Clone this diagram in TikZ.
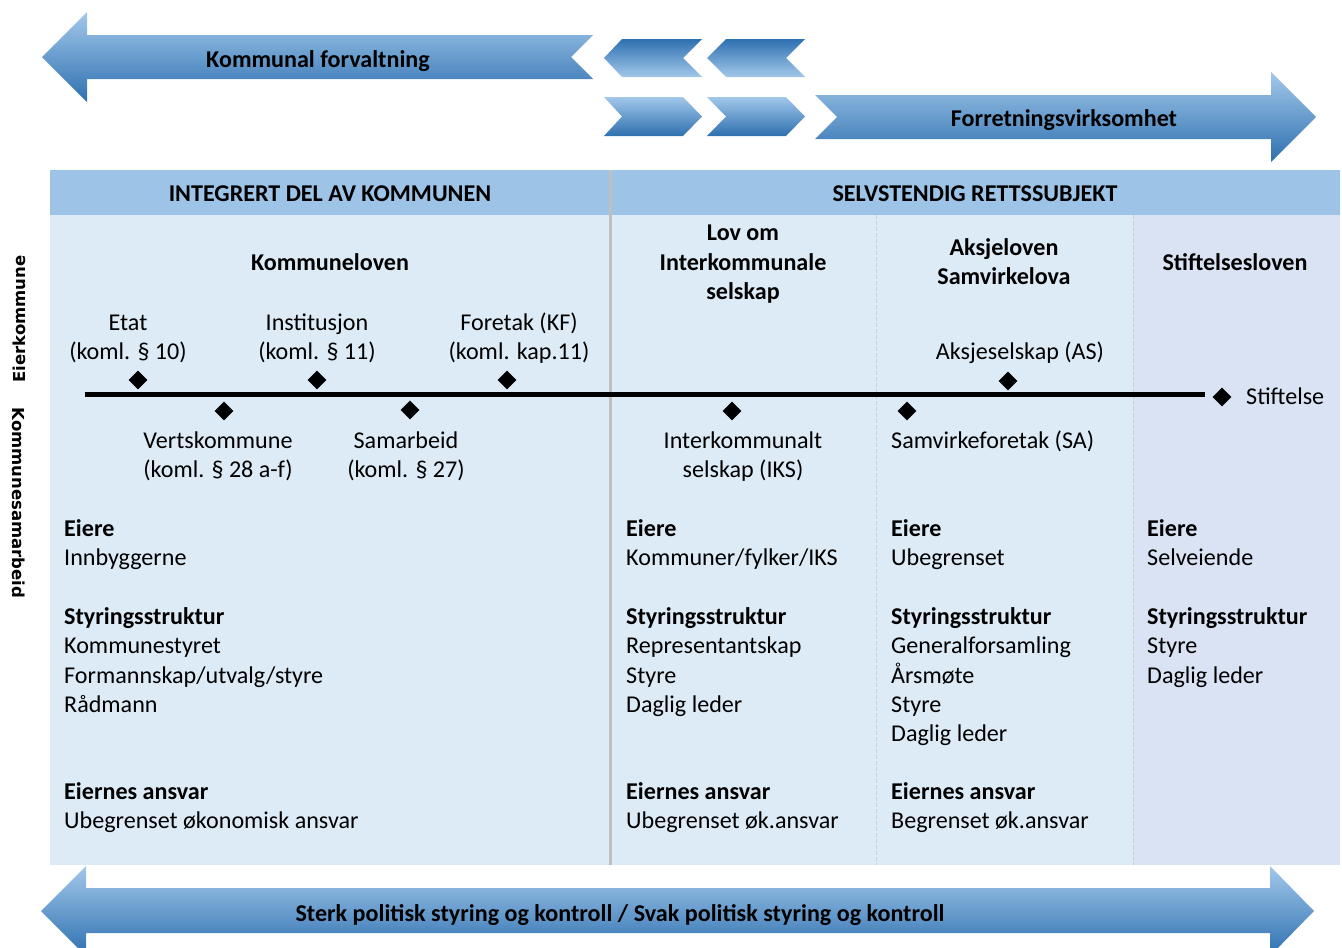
\documentclass[tikz,border=0pt]{standalone}
\usepackage{fontspec}
\setmainfont{Carlito}
\newfontfamily\vfont{DejaVu Sans}
\usetikzlibrary{shapes.geometric}
\definecolor{hdr}{RGB}{157,195,230}
\definecolor{body}{RGB}{221,235,247}
\definecolor{bodyb}{RGB}{218,227,243}
\definecolor{sepc}{RGB}{191,191,191}
\definecolor{dashc}{RGB}{205,205,205}
\definecolor{arL}{RGB}{162,200,234}
\definecolor{arM}{RGB}{95,157,214}
\definecolor{arD}{RGB}{46,112,176}
\tikzset{
  lbl/.style={inner sep=0pt, font=\fontsize{24.1}{28}\selectfont},
  blbl/.style={inner sep=0pt, font=\fontsize{24.1}{28}\selectfont\bfseries},
  dia/.style={diamond, fill=black, inner sep=0pt, minimum width=19pt, minimum height=19pt},
  down shade/.style={top color=arL, middle color=arM, bottom color=arD},
  up shade/.style={top color=arD, middle color=arM, bottom color=arL},
  vlbl/.style={inner sep=0pt, font=\vfont\bfseries\fontsize{16.5}{20}\selectfont},
}
\begin{document}
\begin{tikzpicture}[x=1pt,y=1pt]
\useasboundingbox (0,-948) rectangle (1342,0);
\clip (0,-948) rectangle (1342,0);
% panel
\fill[body] (50,-170) rectangle (1340,-865);
\fill[bodyb] (1133,-215) rectangle (1340,-865);
\fill[hdr] (50,-170) rectangle (1340,-215);
\draw[sepc, line width=3.5pt] (610.5,-170) -- (610.5,-865);
\draw[dashc, dashed, line width=0.8pt, dash pattern=on 4pt off 2pt] (876,-215) -- (876,-865);
\draw[dashc, dashed, line width=0.8pt, dash pattern=on 4pt off 2pt] (1133,-215) -- (1133,-865);
% top arrows
\shade[down shade] (42,-57) -- (87,-12) -- (87,-35) -- (593,-35) -- (571,-57) -- (593,-79) -- (87,-79) -- (87,-102) -- cycle;
\shade[up shade] (604,-58) -- (622,-39) -- (702,-39) -- (683,-58) -- (702,-77) -- (622,-77) -- cycle;
\shade[up shade] (707,-58) -- (726,-39) -- (805,-39) -- (786,-58) -- (805,-77) -- (726,-77) -- cycle;
\shade[down shade] (604,-97) -- (683,-97) -- (702,-116.5) -- (683,-136) -- (604,-136) -- (622,-116.5) -- cycle;
\shade[down shade] (707,-97) -- (786,-97) -- (805,-116.5) -- (786,-136) -- (707,-136) -- (726,-116.5) -- cycle;
\shade[down shade] (815,-95) -- (1271,-95) -- (1271,-72) -- (1316,-117) -- (1271,-162) -- (1271,-139) -- (815,-139) -- (837,-117) -- cycle;
\node[blbl, anchor=base] (kf) at (318,-67) {Kommunal forvaltning};
\node[blbl, anchor=base] (fv) at (1064,-126) {Forretningsvirksomhet};
% bottom arrow
\shade[down shade] (41,-911) -- (86,-866) -- (86,-888) -- (1270,-888) -- (1270,-866) -- (1314,-911) -- (1270,-956) -- (1270,-933) -- (86,-933) -- (86,-956) -- cycle;
\node[blbl, anchor=base] (ps) at (620,-921) {Sterk politisk styring og kontroll / Svak politisk styring og kontroll};
% headers
\node[blbl, anchor=base] (h1) at (330,-201) {INTEGRERT DEL AV KOMMUNEN};
\node[blbl, anchor=base] (h2) at (975,-201) {SELVSTENDIG RETTSSUBJEKT};
% vertical labels
\node[vlbl, rotate=90] (vk1) at (19,-319) {Eierkommune};
\node[vlbl, rotate=-90] (vk2) at (19,-503) {Kommunesamarbeid};
% law titles
\node[blbl, anchor=base] (l1) at (330,-270) {Kommuneloven};
\node[blbl, anchor=base] (l2a) at (743,-240) {Lov om};
\node[blbl, anchor=base] (l2b) at (743,-270) {Interkommunale};
\node[blbl, anchor=base] (l2c) at (743,-299) {selskap};
\node[blbl, anchor=base] (l3a) at (1004,-255) {Aksjeloven};
\node[blbl, anchor=base] (l3b) at (1004,-284) {Samvirkelova};
\node[blbl, anchor=base] (l4) at (1235,-270) {Stiftelsesloven};
% timeline
\coordinate (tl0) at (85,-394.5);
\coordinate (tl1) at (1205,-394.5);
\draw[line width=5.5pt] (tl0) -- (tl1);
\node[dia] (dEtat) at (138,-380) {};
\node[dia] (dInst) at (317,-380) {};
\node[dia] (dKF) at (507,-380) {};
\node[dia] (dAS) at (1008,-381) {};
\node[dia] (dVert) at (224,-411) {};
\node[dia] (dSam) at (410,-410) {};
\node[dia] (dIKS) at (732,-411) {};
\node[dia] (dSA) at (907,-411) {};
\node[dia] (dStif) at (1222,-397) {};
% timeline labels
\node[lbl, anchor=base] (tEtat) at (128,-330) {Etat};
\node[lbl, anchor=base] (tEtat2) at (128,-359) {(koml. § 10)};
\node[lbl, anchor=base] (tInst) at (317,-330) {Institusjon};
\node[lbl, anchor=base] (tInst2) at (317,-359) {(koml. § 11)};
\node[lbl, anchor=base] (tKF) at (519,-330) {Foretak (KF)};
\node[lbl, anchor=base] (tKF2) at (519,-359) {(koml. kap.11)};
\node[lbl, anchor=base] (tAS) at (1020,-359) {Aksjeselskap (AS)};
\node[lbl, anchor=base] (tVert) at (218,-448) {Vertskommune};
\node[lbl, anchor=base] (tVert2) at (218,-477) {(koml. § 28 a-f)};
\node[lbl, anchor=base] (tSam) at (406,-448) {Samarbeid};
\node[lbl, anchor=base] (tSam2) at (406,-477) {(koml. § 27)};
\node[lbl, anchor=base] (tIKS) at (743,-448) {Interkommunalt};
\node[lbl, anchor=base] (tIKS2) at (743,-477) {selskap (IKS)};
\node[lbl, anchor=base west] (tSA) at (891,-448) {Samvirkeforetak (SA)};
\node[lbl, anchor=base west] (tStif) at (1246,-404) {Stiftelse};
% column 1
\node[blbl, anchor=base west] (c1a) at (64,-536) {Eiere};
\node[lbl, anchor=base west] (c1b) at (64,-565) {Innbyggerne};
\node[blbl, anchor=base west] (c1c) at (64,-624) {Styringsstruktur};
\node[lbl, anchor=base west] (c1d) at (64,-653) {Kommunestyret};
\node[lbl, anchor=base west] (c1e) at (64,-683) {Formannskap/utvalg/styre};
\node[lbl, anchor=base west] (c1f) at (64,-712) {Rådmann};
\node[blbl, anchor=base west] (c1g) at (64,-799) {Eiernes ansvar};
\node[lbl, anchor=base west] (c1h) at (64,-828) {Ubegrenset økonomisk ansvar};
% column 2
\node[blbl, anchor=base west] (c2a) at (626,-536) {Eiere};
\node[lbl, anchor=base west] (c2b) at (626,-565) {Kommuner/fylker/IKS};
\node[blbl, anchor=base west] (c2c) at (626,-624) {Styringsstruktur};
\node[lbl, anchor=base west] (c2d) at (626,-653) {Representantskap};
\node[lbl, anchor=base west] (c2e) at (626,-683) {Styre};
\node[lbl, anchor=base west] (c2f) at (626,-712) {Daglig leder};
\node[blbl, anchor=base west] (c2g) at (626,-799) {Eiernes ansvar};
\node[lbl, anchor=base west] (c2h) at (626,-828) {Ubegrenset øk.ansvar};
% column 3
\node[blbl, anchor=base west] (c3a) at (891,-536) {Eiere};
\node[lbl, anchor=base west] (c3b) at (891,-565) {Ubegrenset};
\node[blbl, anchor=base west] (c3c) at (891,-624) {Styringsstruktur};
\node[lbl, anchor=base west] (c3d) at (891,-653) {Generalforsamling};
\node[lbl, anchor=base west] (c3e) at (891,-683) {Årsmøte};
\node[lbl, anchor=base west] (c3f) at (891,-712) {Styre};
\node[lbl, anchor=base west] (c3g) at (891,-741) {Daglig leder};
\node[blbl, anchor=base west] (c3h) at (891,-799) {Eiernes ansvar};
\node[lbl, anchor=base west] (c3i) at (891,-828) {Begrenset øk.ansvar};
% column 4
\node[blbl, anchor=base west] (c4a) at (1147,-536) {Eiere};
\node[lbl, anchor=base west] (c4b) at (1147,-565) {Selveiende};
\node[blbl, anchor=base west] (c4c) at (1147,-624) {Styringsstruktur};
\node[lbl, anchor=base west] (c4d) at (1147,-653) {Styre};
\node[lbl, anchor=base west] (c4e) at (1147,-683) {Daglig leder};
\end{tikzpicture}
\end{document}
